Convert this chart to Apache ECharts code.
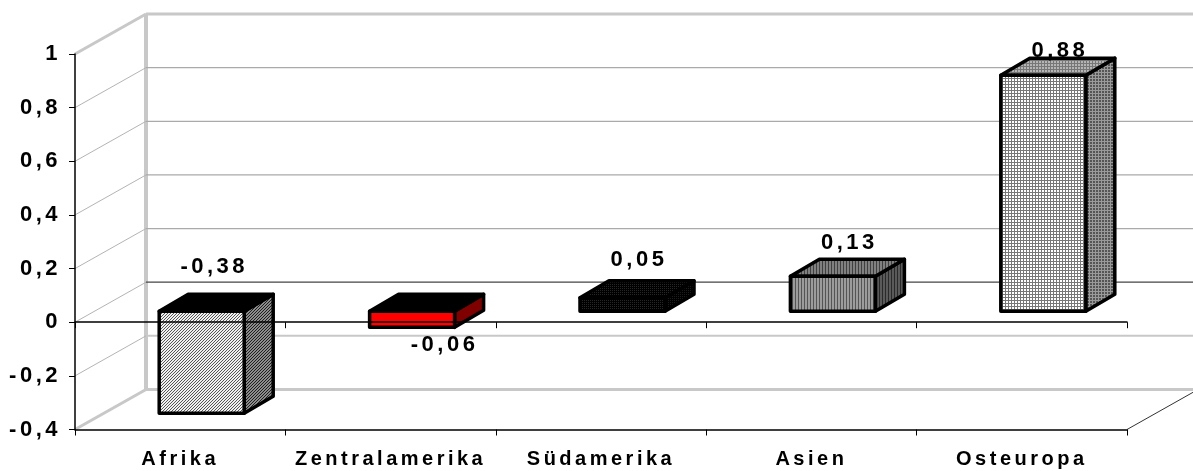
<!DOCTYPE html>
<html>
<head>
<meta charset="utf-8">
<style>html,body{margin:0;padding:0;background:#fff}#c{width:1193px;height:471px}</style>
<script>
// Excel-style wide tracking for every text the chart draws
(function(){
  var orig = HTMLCanvasElement.prototype.getContext;
  HTMLCanvasElement.prototype.getContext = function(t, o){
    var ctx = orig.call(this, t, o);
    if (t === '2d' && ctx && 'letterSpacing' in ctx) ctx.letterSpacing = '3.5px';
    return ctx;
  };
})();
</script>
<script src="https://cdn.jsdelivr.net/npm/echarts@6/dist/echarts.min.js"></script>
</head>
<body>
<div id="c"></div>
<script>
const categories = ['Afrika', 'Zentralamerika', 'Südamerika', 'Asien', 'Osteuropa'];
const values = [-0.38, -0.06, 0.05, 0.13, 0.88];
const yTicks = [1, 0.8, 0.6, 0.4, 0.2, 0, -0.2, -0.4];

const FONT = '"Liberation Sans", Arial, sans-serif';
const DEPTH_WALL = [71, -40];
const BAR_SHIFT = [21.5, -11];
const BAR_DEPTH = [29, -17];
const BAR_HALF = 42.5;
const LABEL_NUDGE = [[34, -55], [54, 7], [38, -49], [38, -44], [38, -35]];

function pattern(w, h, bg, fg, test) {
  const cv = document.createElement('canvas');
  cv.width = w; cv.height = h;
  const g = cv.getContext('2d');
  g.fillStyle = bg; g.fillRect(0, 0, w, h);
  g.fillStyle = fg;
  for (let y = 0; y < h; y++) for (let x = 0; x < w; x++) if (test(x, y)) g.fillRect(x, y, 1, 1);
  return { image: cv, repeat: 'repeat' };
}
const diag = (x, y) => (x + y) % 3 === 0;
const vert = (x, y) => x % 3 === 0;
const grid = (x, y) => x % 3 === 0 || y % 3 === 0;
const dots = (x, y) => x % 2 === 0 && y % 2 === 0;

const faces = [
  { front: pattern(3, 3, '#f0f0f0', '#555', diag), side: pattern(3, 3, '#8c8c8c', '#1e1e1e', diag), top: '#000' },
  { front: '#ff0000', side: '#800000', top: '#000' },
  { front: pattern(2, 2, '#000', '#262626', dots), side: pattern(2, 2, '#000', '#1c1c1c', dots), top: pattern(2, 2, '#000', '#262626', dots) },
  { front: pattern(3, 3, '#9c9c9c', '#555', vert), side: pattern(3, 3, '#5a5a5a', '#2a2a2a', vert), top: pattern(3, 3, '#808080', '#404040', vert) },
  { front: pattern(3, 3, '#fff', '#777', grid), side: pattern(3, 3, '#555', '#9a9a9a', grid), top: pattern(3, 3, '#b5b5b5', '#777', grid) }
];

function wallStyle(v) {
  if (v === 1 || v === -0.4) return { stroke: '#c8c8c8', lineWidth: 3, fill: null };
  return { stroke: '#b4b4b4', lineWidth: 1, fill: null };
}
function backStyle(v) {
  if (v === 1 || v === -0.4) return { stroke: '#c8c8c8', lineWidth: 3, fill: null };
  if (v === 0) return { stroke: '#444', lineWidth: 1.2, fill: null };
  if (v === -0.2) return { stroke: '#c8c8c8', lineWidth: 2, fill: null };
  return { stroke: '#aaa', lineWidth: 1.2, fill: null };
}

function renderWall(params, api) {
  const v = api.value(0);
  const cs = params.coordSys;
  const y = api.coord([0, v])[1];
  const bx = cs.x + DEPTH_WALL[0], by = y + DEPTH_WALL[1];
  const children = [
    { type: 'polyline', shape: { points: [[cs.x, y], [bx, by]] }, style: wallStyle(v) },
    { type: 'polyline', shape: { points: [[bx, by], [api.getWidth(), by]] }, style: backStyle(v) }
  ];
  if (v === -0.4) {
    children.push({ type: 'polyline', shape: { points: [[cs.x + cs.width, y], [cs.x + cs.width + DEPTH_WALL[0], by]] }, style: { stroke: '#333', lineWidth: 1, fill: null } });
  }
  if (v === 1) {
    const low = api.coord([0, -0.4])[1] + DEPTH_WALL[1];
    children.push({ type: 'polyline', shape: { points: [[bx, by], [bx, low]] }, style: { stroke: '#c8c8c8', lineWidth: 4, fill: null } });
  }
  return { type: 'group', children };
}

function renderBar(params, api) {
  const i = api.value(0), v = api.value(1);
  const top = api.coord([i, v]), base = api.coord([i, 0]);
  const cx = top[0] + BAR_SHIFT[0];
  const l = cx - BAR_HALF, r = cx + BAR_HALF;
  const yHi = Math.min(top[1], base[1]) + BAR_SHIFT[1];
  const yLo = Math.max(top[1], base[1]) + BAR_SHIFT[1];
  const d = BAR_DEPTH;
  const f = faces[i];
  const edge = { stroke: '#000', lineWidth: 3.5, lineJoin: 'round' };
  const nudge = LABEL_NUDGE[i];
  return {
    type: 'group',
    children: [
      { type: 'polygon', shape: { points: [[r, yHi], [r + d[0], yHi + d[1]], [r + d[0], yLo + d[1]], [r, yLo]] }, style: Object.assign({ fill: f.side }, edge) },
      { type: 'polygon', shape: { points: [[l, yHi], [l + d[0], yHi + d[1]], [r + d[0], yHi + d[1]], [r, yHi]] }, style: Object.assign({ fill: f.top }, edge) },
      { type: 'polygon', shape: { points: [[l, yHi], [r, yHi], [r, yLo], [l, yLo]] }, style: Object.assign({ fill: f.front }, edge) },
      { type: 'text', z2: 50, style: {
          text: String(v).replace('.', ','),
          x: top[0] + nudge[0], y: (v < -0.1 ? base[1] : top[1]) + nudge[1],
          align: 'center', verticalAlign: 'middle',
          font: 'bold 22px ' + FONT, fill: '#000'
      } }
    ]
  };
}

const chart = echarts.init(document.getElementById('c'), null, { renderer: 'canvas' });
chart.setOption({
  animation: false,
  backgroundColor: '#fff',
  grid: { left: 75, right: 66, top: 54, bottom: 37, containLabel: false },
  xAxis: [
    {
      type: 'category', data: categories, position: 'bottom',
      axisLine: { onZero: false, lineStyle: { color: '#000', width: 1.5 } },
      axisTick: { show: true, length: 6, lineStyle: { color: '#000', width: 1 } },
      axisLabel: { interval: 0, margin: 18, fontFamily: FONT, fontWeight: 'bold', fontSize: 20, color: '#000' },
      splitLine: { show: false }, z: 6
    },
    {
      type: 'category', data: categories, position: 'top',
      axisLine: { onZero: true, lineStyle: { color: '#000', width: 1.5 } },
      axisTick: { show: true, inside: true, length: 6, lineStyle: { color: '#000', width: 1 } },
      axisLabel: { show: false }, splitLine: { show: false }, z: 6
    }
  ],
  yAxis: {
    type: 'value', min: -0.4, max: 1, interval: 0.2,
    axisLine: { show: true, onZero: false, lineStyle: { color: '#000', width: 1.5 } },
    axisTick: { show: true, length: 6, lineStyle: { color: '#000', width: 1 } },
    axisLabel: { margin: 14, fontFamily: FONT, fontWeight: 'bold', fontSize: 22, color: '#000',
      padding: [3, 0, 0, 0],
      formatter: v => String(+v.toFixed(1)).replace('.', ',') },
    splitLine: { show: false }, z: 6
  },
  series: [
    { type: 'custom', name: 'wall', xAxisIndex: 0, silent: true, z: 1, clip: false,
      renderItem: renderWall, data: yTicks.map(v => [v]), encode: { x: -1, y: 0 } },
    { type: 'custom', name: 'values', xAxisIndex: 0, silent: true, z: 3, clip: false,
      renderItem: renderBar, data: values.map((v, i) => [i, v]), encode: { x: 0, y: 1 } }
  ]
});
</script>
</body>
</html>
